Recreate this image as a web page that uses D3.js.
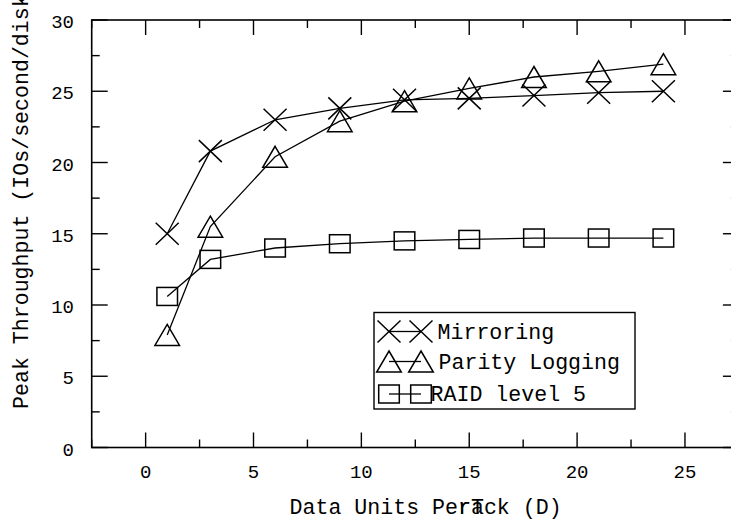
<!DOCTYPE html>
<html><head><meta charset="utf-8">
<script src="https://cdn.jsdelivr.net/npm/d3@7"></script>
<style>body{margin:0;background:#fff}svg{display:block}</style>
</head><body><svg id="c" width="731" height="520"></svg>
<script>
// ---- data ----
const dataUnits = [1, 3, 6, 9, 12, 15, 18, 21, 24];
const mirroring = [15.0, 20.8, 23.0, 23.8, 24.4, 24.5, 24.7, 24.9, 25.0];
const parityLogging = [7.9, 15.5, 20.4, 22.9, 24.3, 25.2, 26.0, 26.4, 26.9];
const raid5 = [10.6, 13.2, 14.0, 14.3, 14.5, 14.6, 14.7, 14.7, 14.7];
const seriesNames = ["Mirroring", "Parity Logging", "RAID level 5"];
const xTickLabels = [0, 5, 10, 15, 20, 25];
const yTickLabels = [0, 5, 10, 15, 20, 25, 30];
const xTitle = ["Data Units Per", "T", "rack (D)"];
const yTitle = "Peak Throughput (IOs/second/disk)";

// ---- layout ----
const svg = d3.select("#c");
const x = d3.scaleLinear().domain([-2.5, 27.5]).range([91.7, 738.9]);
const y = d3.scaleLinear().domain([0, 30]).range([447.5, 20]);
const mono = "'Liberation Mono','Courier New',monospace";
const tickFont = "'Liberation Mono','Courier New',monospace";

const markers = {
  cross: (g) => g.append("path").attr("d", "M-11.5,-11L11.5,11M-11.5,11L11.5,-11"),
  tri: (g) => g.append("path").attr("d", "M0,-10.5L12.3,10.5L-12.3,10.5Z"),
  square: (g) => g.append("rect").attr("x", -10.3).attr("y", -9).attr("width", 20.6).attr("height", 18)
};
const series = [
  {name: seriesNames[0], values: mirroring, marker: "cross"},
  {name: seriesNames[1], values: parityLogging, marker: "tri"},
  {name: seriesNames[2], values: raid5, marker: "square"}
];

// frame
svg.append("rect").attr("x", x(-2.5)).attr("y", y(30))
  .attr("width", x(27.5) - x(-2.5)).attr("height", y(0) - y(30))
  .attr("fill", "none").attr("stroke", "#000").attr("stroke-width", 1.6);

// ticks
const xt = d3.range(-2.5, 27.51, 2.5);
const yt = d3.range(0, 30.01, 2.5);
const tg = svg.append("g").attr("stroke", "#000").attr("stroke-width", 1.4);
xt.forEach(v => {
  const L = (Math.abs(v % 5) < 1e-6) ? 15 : 8;
  tg.append("line").attr("x1", x(v)).attr("x2", x(v)).attr("y1", y(0)).attr("y2", y(0) - L);
  tg.append("line").attr("x1", x(v)).attr("x2", x(v)).attr("y1", y(30)).attr("y2", y(30) + L);
});
yt.forEach(v => {
  const L = (Math.abs(v % 5) < 1e-6) ? 16 : 8;
  tg.append("line").attr("y1", y(v)).attr("y2", y(v)).attr("x1", x(-2.5)).attr("x2", x(-2.5) + L);
  tg.append("line").attr("y1", y(v)).attr("y2", y(v)).attr("x1", x(27.5)).attr("x2", x(27.5) - L);
});

// tick labels
svg.append("g").selectAll("text").data(xTickLabels).join("text")
  .attr("x", d => x(d)).attr("y", 478).attr("text-anchor", "middle")
  .attr("font-family", tickFont).attr("font-size", 19).text(d => d);
svg.append("g").selectAll("text").data(yTickLabels).join("text")
  .attr("x", 74).attr("y", d => y(d) + 3).attr("text-anchor", "end")
  .attr("dominant-baseline", "central")
  .attr("font-family", tickFont).attr("font-size", 19).text(d => d);

// lines and markers
const line = d3.line().x((d, i) => x(dataUnits[i])).y(d => y(d));
series.forEach(s => {
  svg.append("path").attr("d", line(s.values)).attr("fill", "none")
    .attr("stroke", "#000").attr("stroke-width", 1.3);
  const mg = svg.append("g").attr("fill", "none").attr("stroke", "#000").attr("stroke-width", 1.5);
  s.values.forEach((v, i) => {
    const g = mg.append("g").attr("transform", `translate(${x(dataUnits[i])},${y(v)})`);
    markers[s.marker](g);
  });
});

// legend
const leg = svg.append("g");
leg.append("rect").attr("x", 374).attr("y", 312.5).attr("width", 261).attr("height", 96.5)
  .attr("fill", "#fff").attr("stroke", "#000").attr("stroke-width", 1.4);
const legRowY = [331.5, 361.5, 394];
const legTextX = [439, 440, 432];
series.forEach((s, i) => {
  const cy = legRowY[i];
  leg.append("line").attr("x1", 389).attr("x2", 421).attr("y1", cy).attr("y2", cy)
    .attr("stroke", "#000").attr("stroke-width", 1.3);
  [389, 421].forEach(cx => {
    const g = leg.append("g").attr("transform", `translate(${cx},${cy})`)
      .attr("fill", "none").attr("stroke", "#000").attr("stroke-width", 1.5);
    markers[s.marker](g);
  });
  leg.append("text").attr("x", legTextX[i] - 1.5).attr("y", cy + 7)
    .attr("font-family", mono).attr("font-size", 21.6).text(s.name);
});

// axis titles
const cell = 21.6 * 0.6;
const xt0 = svg.append("text").attr("x", 289.5).attr("y", 514)
  .attr("font-family", mono).attr("font-size", 21.6);
xt0.append("tspan").text(xTitle[0]);
xt0.append("tspan").text(xTitle[1]);
xt0.append("tspan").attr("dx", -2 * cell).text(xTitle[2]);

svg.append("text").attr("transform", "translate(27.5,409) rotate(-90)")
  .attr("font-family", mono).attr("font-size", 21.6).text(yTitle);
</script>
</body></html>
